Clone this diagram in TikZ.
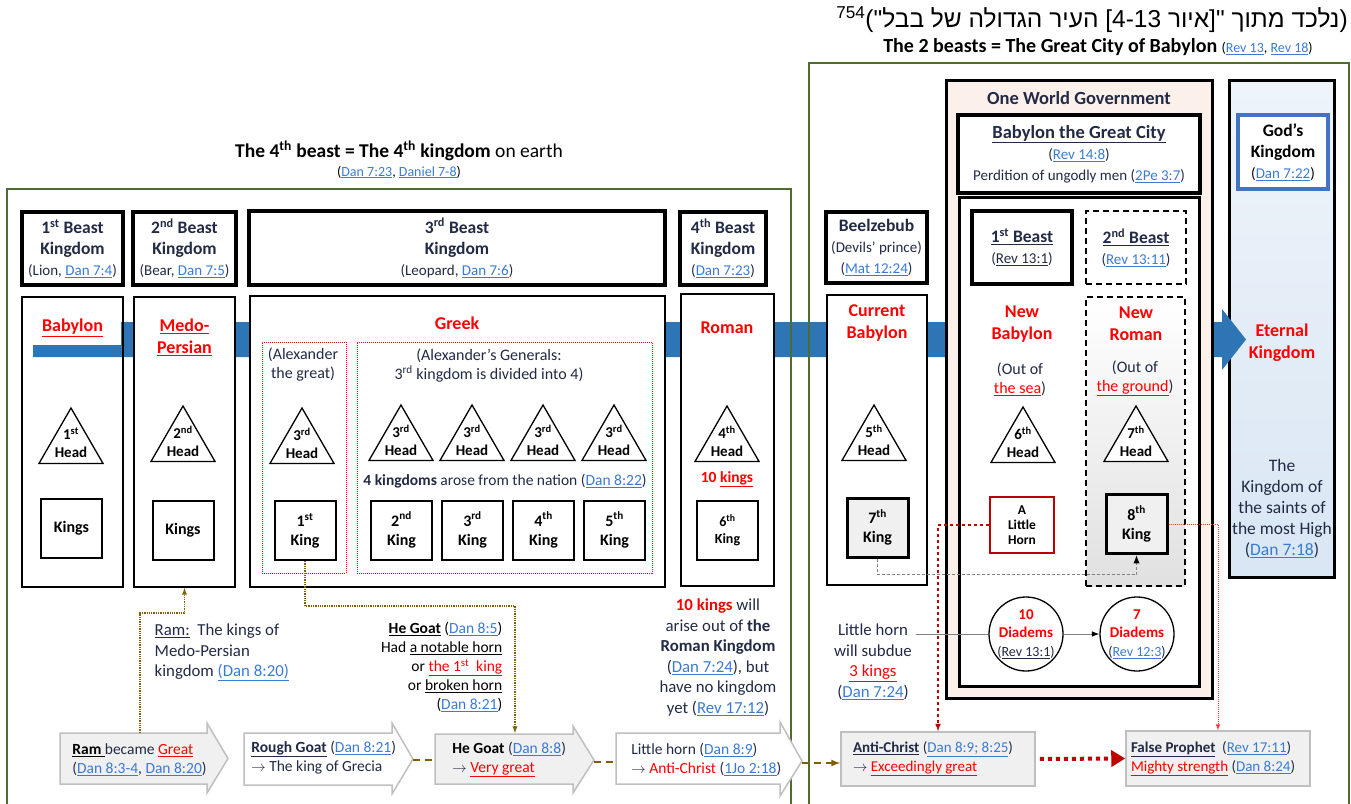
\documentclass[tikz,border=0pt]{standalone}
\usepackage{fontspec}
\setmainfont{Carlito}
\newfontfamily\hebfont[Script=Hebrew]{Liberation Sans}
\TeXXeTstate=1
\usetikzlibrary{arrows.meta, positioning, calc, shapes.geometric}

\definecolor{frameg}{HTML}{4F6B2F}
\definecolor{barblue}{HTML}{2E75B6}
\definecolor{linkblue}{HTML}{3A7BD5}
\definecolor{navy}{HTML}{222A45}
\definecolor{hred}{HTML}{FF0000}
\definecolor{dred}{HTML}{C00000}
\definecolor{goatbr}{HTML}{7F6000}
\definecolor{owgpink}{HTML}{FCF0EB}
\definecolor{godtop}{HTML}{EEF4FA}
\definecolor{godbot}{HTML}{D9E6F4}
\definecolor{boxblue}{HTML}{4472C4}
\definecolor{lgray}{HTML}{F0F0F0}
\definecolor{bgray}{HTML}{BFBFBF}

\newcommand{\lnk}[1]{\textcolor{linkblue}{\underline{#1}}}
\newcommand{\rsz}{\mdseries\fontsize{15}{18}\selectfont}

\begin{document}
\begin{tikzpicture}[x=1pt, y=-1pt, >=latex, thick,
  hdr/.style={draw, line width=3.5pt, fill=white, align=center, text=navy, inner sep=0pt, font=\fontsize{17.5}{21}\selectfont\bfseries},
  colbox/.style={draw, line width=2pt, fill=white, inner sep=0pt},
  lbl/.style={text=hred, align=center, font=\fontsize{18}{22}\selectfont\bfseries},
  note/.style={text=navy, align=center, font=\fontsize{16.8}{20.5}\selectfont},
  head/.style={draw, fill=white, regular polygon, regular polygon sides=3, minimum size=74pt, inner sep=0pt, line width=1.3pt},
  htxt/.style={text=black, align=center, inner sep=0pt, yshift=2pt, font=\fontsize{15}{18}\selectfont\bfseries},
  king/.style={draw, fill=white, line width=2pt, minimum width=61pt, minimum height=59pt, inner sep=0pt, align=center, font=\fontsize{16}{19}\selectfont\bfseries},
  dotbox/.style={draw=hred, densely dotted, line width=1pt, inner sep=0pt},
  longdash/.style={dash pattern=on 6pt off 4pt},
  diadem/.style={draw, circle, fill=white, minimum size=74pt, inner sep=0pt, line width=1.3pt},
  dtxt/.style={text=navy, align=center, inner sep=0pt, font=\fontsize{15}{18.5}\selectfont},
  atxt/.style={text=navy, align=left, anchor=west, inner sep=0pt, font=\fontsize{15.5}{19}\selectfont},
  bigarr/.style={draw=bgray, line width=1.5pt},
  greybox/.style={draw=bgray, fill=lgray, line width=1.5pt, align=flush left, text=navy, inner ysep=0pt, font=\fontsize{15}{19}\selectfont},
  goatdot/.style={color=goatbr, densely dotted, line width=1.3pt},
  goatdash/.style={color=goatbr, dash pattern=on 7pt off 5pt, line width=2pt},
  graydot/.style={color=gray, dash pattern=on 3pt off 2pt, line width=1.2pt},
  reddash/.style={color=dred, dashed, line width=1.5pt},
  reddot/.style={color=hred!80, densely dotted, line width=1pt},
  bigred/.style={color=dred, line width=4pt, dash pattern=on 4pt off 4pt, shorten <=4pt, -{Triangle[length=14pt,width=16pt]}},
]
\useasboundingbox (0,0) rectangle (1351,803);

\node (hebt) [font=\fontsize{24.5}{28}\selectfont\hebfont] at (1092,20) {\beginR(נלכד מתוך "[איור 4-13] העיר הגדולה של בבל")\textsuperscript{754}\endR};
\node (sub2) at (1098,47) {\fontsize{20}{24}\selectfont\bfseries The 2 beasts = The Great City of Babylon \mdseries\fontsize{14}{17}\selectfont(\lnk{Rev 13}, \lnk{Rev 18})};
\node (title4) at (399,151) {\fontsize{19.5}{24}\selectfont\textbf{The 4\textsuperscript{th} beast = The 4\textsuperscript{th} kingdom} on earth};
\node (title4r) [font=\fontsize{14}{17}\selectfont] at (399,172) {(\lnk{Dan 7:23}, \lnk{Daniel 7-8})};

\node (godcol) [draw, line width=3pt, top color=godtop, bottom color=godbot, minimum width=105, minimum height=497, inner sep=0pt] at (1281.5,328.5) {};

\fill[barblue] (33,322) -- (1222,322) -- (1222,309) -- (1246,339.5) -- (1222,370) -- (1222,357) -- (33,357) -- cycle;

\draw[frameg, line width=2pt] (7,810) -- (7,189) -- (791,189) -- (791,810);
\draw[frameg, line width=2pt] (809,810) -- (809,63) -- (1349,63) -- (1349,810);

\node (b1hd) [hdr, minimum width=101, minimum height=73] at (72.5,248.5) {1\textsuperscript{st} Beast\\Kingdom\\{\rsz(Lion, \lnk{Dan 7:4})}};
\node (b2hd) [hdr, minimum width=103, minimum height=73] at (184.5,248.5) {2\textsuperscript{nd} Beast\\Kingdom\\{\rsz(Bear, \lnk{Dan 7:5})}};
\node (b3hd) [hdr, minimum width=416, minimum height=74] at (457,248) {3\textsuperscript{rd} Beast\\Kingdom\\{\rsz(Leopard, \lnk{Dan 7:6})}};
\node (b4hd) [hdr, minimum width=86, minimum height=73] at (723,248.5) {4\textsuperscript{th} Beast\\Kingdom\\{\rsz(\lnk{Dan 7:23})}};
\node (beelz) [hdr, minimum width=101, minimum height=71] at (876.5,247.5) {Beelzebub\\{\rsz(Devils’ prince)}\\{\rsz(\lnk{Mat 12:24})}};

\node (babcol) [colbox, fill=none, minimum width=101, minimum height=290] at (72.5,442) {};
\node (medocol) [colbox, minimum width=101, minimum height=290] at (184.5,442) {};
\node (grkcol) [colbox, minimum width=415, minimum height=291] at (457.5,441.5) {};
\node (romcol) [colbox, minimum width=93, minimum height=292] at (727.5,440) {};
\node (curcol) [colbox, minimum width=100, minimum height=290] at (877,440) {};

\node (babl) [lbl, fill=white, minimum width=97, minimum height=34, inner sep=0pt] at (72.5,328) {\underline{Babylon}};
\node (medol) [lbl] at (184.5,337) {\underline{Medo-}\\\underline{Persian}};
\node (grkl) [lbl] at (457,323) {Greek};
\node (roml) [lbl] at (727,328) {Roman};
\node (curl) [lbl] at (877,323) {Current\\Babylon};

\node (alexbox) [dotbox, minimum width=84, minimum height=231] at (304,457.5) {};
\node (genbox) [dotbox, minimum width=295, minimum height=231] at (504.5,457.5) {};
\node (alext) [note, font=\fontsize{16}{19}\selectfont] at (303,364.5) {(Alexander\\the great)};
\node (gent) [note, font=\fontsize{16}{19}\selectfont] at (489,366) {(Alexander’s Generals:\\3\textsuperscript{rd} kingdom is divided into 4)};

\node (h1) [head, label={[htxt]center:{1\textsuperscript{st}\\Head}}] at (71,445) {};
\node (h2) [head, label={[htxt]center:{2\textsuperscript{nd}\\Head}}] at (183,443) {};
\node (h3) [head, label={[htxt]center:{3\textsuperscript{rd}\\Head}}] at (302,445) {};
\foreach \x/\n in {401/a, 472/b, 543/c, 614/d}
  \node (h3\n) [head, label={[htxt]center:{3\textsuperscript{rd}\\Head}}] at (\x,442) {};
\node (h4) [head, label={[htxt]center:{4\textsuperscript{th}\\Head}}] at (727,443) {};
\node (h5) [head, label={[htxt]center:{5\textsuperscript{th}\\Head}}] at (874,442) {};

\node (kb) [king] at (71.5,528.5) {Kings};
\node (km) [king] at (183,530) {Kings};
\node (k1) [king] at (305,530.5) {1\textsuperscript{st}\\King};
\foreach \x/\n/\o in {401.5/2/nd, 472.5/3/rd, 543.5/4/th, 614.5/5/th}
  \node (k\n) [king] at (\x,530) {\n\textsuperscript{\o}\\King};
\node (fourk) [note, font=\fontsize{15.5}{18}\selectfont] at (505,481) {\textbf{4 kingdoms} arose from the nation (\lnk{Dan 8:22})};
\node (tenk) [lbl, font=\fontsize{15.5}{18}\selectfont\bfseries] at (727,479) {10 \underline{kings}};
\node (k6) [king, font=\fontsize{14}{17}\selectfont\bfseries] at (727.5,530) {6\textsuperscript{th}\\King};
\node (k7) [king, line width=3pt, fill=lgray] at (877.5,527.5) {7\textsuperscript{th}\\King};

\node (owg) [draw, line width=3pt, fill=owgpink, minimum width=266, minimum height=618, inner sep=0pt] at (1079,389) {};
\node (owgt) [text=navy, font=\fontsize{18.5}{22}\selectfont\bfseries] at (1079,98) {One World Government};
\node (bgc) [hdr, font=\fontsize{18.5}{21}\selectfont\bfseries, minimum width=242, minimum height=78] at (1079,154) {\underline{Babylon the Great City}\\{\rsz(\lnk{Rev 14:8})}\\{\rsz Perdition of ungodly men (\lnk{2Pe 3:7})}};
\node (inner) [colbox, line width=3pt, minimum width=240, minimum height=489] at (1079,441.5) {};
\node (fb1) [hdr, minimum width=100, minimum height=73] at (1022,247.5) {\underline{1\textsuperscript{st} Beast}\\{\rsz(\underline{Rev 13:1})}};
\node (fb2) [hdr, longdash, line width=2pt, minimum width=100, minimum height=73] at (1136,247.5) {\underline{2\textsuperscript{nd} Beast}\\{\rsz(\lnk{Rev 13:11})}};
\node (nrbox) [draw, longdash, line width=2pt, top color=white, bottom color=black!12, minimum width=99, minimum height=289, inner sep=0pt] at (1135.5,441.5) {};
\node (nbl) [lbl] at (1022,324) {New\\Babylon};
\node (nbo) [note, font=\fontsize{16}{19}\selectfont] at (1020,379.5) {(Out of\\\textcolor{hred}{\underline{the sea}})};
\node (nrl) [lbl] at (1136,324) {New\\Roman};
\node (nro) [note, font=\fontsize{16}{19}\selectfont] at (1135,378.5) {(Out of\\\textcolor{hred}{\underline{the ground}})};
\node (h6) [head, label={[htxt]center:{6\textsuperscript{th}\\Head}}] at (1023,444) {};
\node (h7) [head, label={[htxt]center:{7\textsuperscript{th}\\Head}}] at (1136,443) {};
\node (lhorn) [draw=dred, line width=2pt, fill=white, minimum width=64, minimum height=56, inner sep=0pt, align=center, font=\fontsize{13.5}{15}\selectfont\bfseries] at (1022,525) {A\\Little\\Horn};
\node (k8) [king, line width=3pt, fill=lgray] at (1136.5,524) {8\textsuperscript{th}\\King};
\node (d10) [diadem, label={[dtxt]center:{\textcolor{hred}{\textbf{10}}\\\textcolor{hred}{\textbf{Diadems}}\\{\fontsize{14}{16}\selectfont(\underline{Rev 13:1})}}}] at (1026,634) {};
\node (d7) [diadem, label={[dtxt]center:{\textcolor{hred}{\textbf{7}}\\\textcolor{hred}{\textbf{Diadems}}\\{\fontsize{14}{16}\selectfont(\lnk{Rev 12:3})}}}] at (1137,634) {};
\node (lhsub) [note] at (873,662) {Little horn\\will subdue\\\textcolor{hred}{\underline{3 kings}}\\(\lnk{Dan 7:24})};

\node (godk) [hdr, draw=boxblue, text=black, minimum width=90, minimum height=74] at (1283,152) {God’s\\Kingdom\\{\rsz(\lnk{Dan 7:22})}};
\node (etk) [lbl] at (1282,343) {Eternal\\Kingdom};
\node (saints) [note, font=\fontsize{17.5}{21}\selectfont] at (1282,508.5) {The\\Kingdom of\\the saints of\\the most High\\(\lnk{Dan 7:18})};

\node (ramn) [note, align=left, anchor=west] at (151,652.5) {\underline{Ram:}\ \ The kings of\\Medo-Persian\\kingdom \lnk{(Dan 8:20)}};
\node (hgn) [note, align=right, anchor=east, text=black, font=\fontsize{15.5}{19}\selectfont] at (506,667) {\textbf{\underline{He Goat}} (\lnk{Dan 8:5})\\Had \underline{a notable horn}\\or \textcolor{hred}{\underline{the 1\textsuperscript{st}\ \ king}}\\or \underline{broken horn}\\(\lnk{Dan 8:21})};
\node (tenkn) [note] at (718,657.5) {\textcolor{hred}{\textbf{10 kings}} will\\arise out of \textbf{the}\\\textbf{Roman Kingdom}\\(\lnk{Dan 7:24}), but\\have no kingdom\\yet (\lnk{Rev 17:12})};

\draw[bigarr, fill=lgray] (60,733) -- (207,733) -- (207,723) -- (228,758.5) -- (207,793) -- (207,784) -- (60,784) -- cycle;
\coordinate (ramtop) at (140,733);
\node (ramt) [atxt] at (72,759.5) {\textcolor{black}{\underline{\textbf{Ram}\ }}became \textcolor{hred}{\underline{Great}}\\(\lnk{Dan 8:3-4}, \lnk{Dan 8:20})};
\draw[bigarr, fill=white] (244,733) -- (392,733) -- (392,723) -- (413,759) -- (392,794) -- (392,785) -- (244,785) -- cycle;
\coordinate (rgtip) at (413,760);
\node (rgt) [atxt] at (251,757.5) {\textbf{\underline{Rough Goat}} (\lnk{Dan 8:21})\\$\rightarrow$ The king of Grecia};
\draw[bigarr, fill=lgray] (435,734) -- (573,734) -- (573,726) -- (594,760) -- (573,793) -- (573,784) -- (435,784) -- cycle;
\coordinate (hgtail) at (435,760);
\coordinate (hgtip) at (594,762);
\coordinate (hgtop) at (515,733);
\node (hgt) [atxt] at (452,759.5) {\textcolor{black}{\textbf{He Goat}} (\lnk{Dan 8:8})\\$\rightarrow$ \textcolor{hred}{\underline{Very great}}};
\draw[bigarr, fill=white] (616,733) -- (780,733) -- (780,722) -- (802,761) -- (780,796) -- (780,784) -- (616,784) -- cycle;
\coordinate (lhtail) at (616,762);
\coordinate (lhtip) at (802,763);
\node (lht) [atxt] at (631,759.5) {Little horn (\lnk{Dan 8:9})\\$\rightarrow$ \textcolor{hred}{Anti-Christ} (\lnk{1Jo 2:18})};

\node (anti) [greybox, text width=170, inner xsep=12, minimum height=54] at (938,759) {\textbf{\underline{Anti-Christ}} (\lnk{Dan 8:9; 8:25})\\$\rightarrow$ \textcolor{hred}{\underline{Exceedingly great}}};
\node (fp) [greybox, text width=174, inner xsep=5, minimum height=55] at (1218,758.5) {\textbf{\underline{False Prophet}}\ \ (\lnk{Rev 17:11})\\\textcolor{hred}{\underline{Mighty strength}} (\lnk{Dan 8:24})};

\draw[goatdash] (rgtip) -- (hgtail);
\draw[goatdash] (hgtip) -- (lhtail);
\draw[goatdash, ->] (lhtip) -- (lhtip -| anti.west);
\draw[goatdot, ->] (ramtop) -- ++(0,-120) -| (medocol.south);
\draw[goatdot, ->] (k1.south) -- ++(0,45) -| (hgtop);
\draw[graydot, -{Latex[color=black]}] (k7.south) -- ++(0,16) -| (k8.south);
\draw[reddash, ->] (lhorn.west) -| (anti.north);
\draw[reddot, ->] (k8.east) -| (fp.north);
\draw[bigred] (anti.east) -- (fp.west);
\draw[gray, line width=1pt] (lhsub.east |- d10.west) -- (d10.west);
\draw[gray, line width=1pt, -{Latex[color=black]}] (d10.east) -- (d7.west);
\end{tikzpicture}
\end{document}
